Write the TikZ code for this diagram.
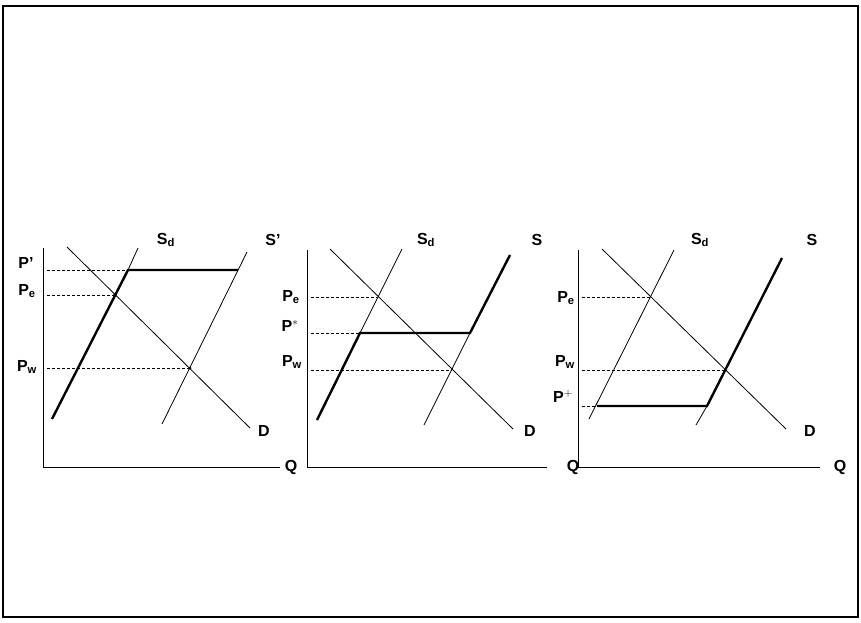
\documentclass[tikz,border=0pt]{standalone}
\usepackage{fontspec}
\setmainfont{Liberation Sans}
\begin{document}
\begin{tikzpicture}[x=1pt,y=-1pt,
  thinline/.style={line width=0.8pt},
  thickline/.style={line width=2.4pt},
  axisline/.style={line width=0.9pt},
  guide/.style={line width=0.7pt,dash pattern=on 2.5pt off 2.5pt},
  lbl/.style={font=\fontsize{16}{16}\selectfont\bfseries,inner sep=0pt}]
\useasboundingbox (0,0) rectangle (861,622);
\draw[line width=1.4pt] (3,6) rectangle (858,617);

% ---------- Panel 1 ----------
\coordinate (a1top) at (43,248);
\coordinate (a1o) at (43,467);
\coordinate (a1r) at (280,467);
\draw[axisline] (a1top) -- (a1o) -- (a1r);
\coordinate (sd1b) at (52,419);
\coordinate (sd1k) at (128,270);
\coordinate (sd1t) at (138,248);
\coordinate (s1b) at (162,424);
\coordinate (s1k) at (238,270);
\coordinate (s1t) at (247,252);
\coordinate (d1t) at (67,247);
\coordinate (d1b) at (250,428);
\coordinate (e1) at (115,295);
\coordinate (w1) at (190,368);
\draw[thinline] (sd1k) -- (sd1t);
\draw[thinline] (s1b) -- (s1t);
\draw[thinline] (d1t) -- (d1b);
\draw[thickline] (sd1b) -- (sd1k) -- (s1k);
\draw[guide] (47,270) -- (sd1k);
\draw[guide] (47,295) -- (e1);
\draw[guide] (47,368) -- (w1);
\fill (e1) circle (1.8pt);
\fill (w1) circle (1.5pt);
\node[lbl] (p1s) at (26,263) {P'};
\node[lbl] (p1e) at (27,291) {P$_{\mathbf e}$};
\node[lbl] (p1w) at (27,367) {P$_{\mathbf w}$};
\node[lbl] (sd1l) at (166,240) {S$_{\mathbf d}$};
\node[lbl] (s1l) at (273,240) {S'};
\node[lbl] (d1l) at (264,431) {D};
\node[lbl] (q1l) at (291,467) {Q};

% ---------- Panel 2 ----------
\coordinate (a2top) at (307,250);
\coordinate (a2o) at (307,467);
\coordinate (a2r) at (547,467);
\draw[axisline] (a2top) -- (a2o) -- (a2r);
\coordinate (sd2b) at (317,420);
\coordinate (sd2k) at (360,333);
\coordinate (sd2t) at (402,249);
\coordinate (s2b) at (424,425);
\coordinate (s2k) at (470,333);
\coordinate (s2t) at (510,255);
\coordinate (d2t) at (330,249);
\coordinate (d2b) at (513,429);
\coordinate (e2) at (377,297);
\coordinate (w2) at (452,370);
\draw[thinline] (sd2k) -- (sd2t);
\draw[thinline] (s2b) -- (s2k);
\draw[thinline] (d2t) -- (d2b);
\draw[thickline] (sd2b) -- (sd2k) -- (s2k) -- (s2t);
\draw[guide] (311,297) -- (e2);
\draw[guide] (311,333) -- (sd2k);
\draw[guide] (311,370) -- (w2);
\node[lbl] (p2e) at (291,297) {P$_{\mathbf e}$};
\node[lbl] (p2s) at (290,326) {P$^{*}$};
\node[lbl] (p2w) at (292,362) {P$_{\mathbf w}$};
\node[lbl] (sd2l) at (426,240) {S$_{\mathbf d}$};
\node[lbl] (s2l) at (537,240) {S};
\node[lbl] (d2l) at (530,431) {D};
\node[lbl] (q2l) at (573,467) {Q};

% ---------- Panel 3 ----------
\coordinate (a3top) at (578,250);
\coordinate (a3o) at (578,467);
\coordinate (a3r) at (820,467);
\draw[axisline] (a3top) -- (a3o) -- (a3r);
\coordinate (sd3b) at (589,419);
\coordinate (sd3k) at (597,406);
\coordinate (sd3t) at (674,250);
\coordinate (s3b) at (696,425);
\coordinate (s3k) at (707,406);
\coordinate (s3t) at (782,258);
\coordinate (d3t) at (602,249);
\coordinate (d3b) at (786,429);
\coordinate (e3) at (650,297);
\coordinate (w3) at (725,370);
\draw[thinline] (sd3b) -- (sd3t);
\draw[thinline] (s3b) -- (s3k);
\draw[thinline] (d3t) -- (d3b);
\draw[thickline] (sd3k) -- (s3k) -- (s3t);
\draw[guide] (582,297) -- (e3);
\draw[guide] (582,370) -- (w3);
\draw[guide] (582,406) -- (sd3k);
\node[lbl] (p3e) at (566,298) {P$_{\mathbf e}$};
\node[lbl] (p3w) at (565,362) {P$_{\mathbf w}$};
\node[lbl] (p3s) at (563,396) {P$^{+}$};
\node[lbl] (sd3l) at (700,240) {S$_{\mathbf d}$};
\node[lbl] (s3l) at (812,240) {S};
\node[lbl] (d3l) at (810,431) {D};
\node[lbl] (q3l) at (840,467) {Q};
\end{tikzpicture}
\end{document}
